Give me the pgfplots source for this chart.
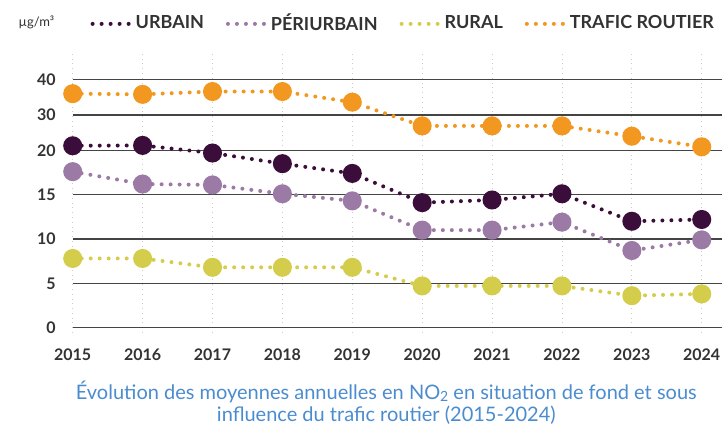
\documentclass[border=0pt]{standalone}
\usepackage{pgfplots}
\pgfplotsset{compat=1.18}
\usepackage{fontspec}
\setmainfont{Lato}
\definecolor{urb}{HTML}{3A0D3A}
\definecolor{peri}{HTML}{9B7BA6}
\definecolor{rur}{HTML}{D4CD4B}
\definecolor{traf}{HTML}{F2971F}
\definecolor{txt}{HTML}{333333}
\definecolor{capblue}{HTML}{4A8CCF}
\definecolor{grd}{HTML}{444444}
\begin{document}
\begin{tikzpicture}
\begin{axis}[
  scale only axis,
  width=324.65pt, height=140pt,
  xmin=2015, xmax=2024.29,
  ymin=-0.6, ymax=47.5,
  y coord trafo/.code={\pgfmathparse{(#1<=20)*(#1)+(#1>20)*(20+0.4*(#1-20))}},
  y coord inv trafo/.code={\pgfmathparse{(#1<=20)*(#1)+(#1>20)*(20+2.5*(#1-20))}},
  xtick={2015,...,2024},
  ytick={0,5,10,15,20,30,40},
  /pgf/number format/assume math mode=true,
  xticklabel={\pgfmathprintnumber[1000 sep={}]{\tick}},
  xticklabel style={font=\fontsize{8}{9}\selectfont\bfseries, text=txt, yshift=-4.5pt},
  yticklabel style={font=\fontsize{8}{9}\selectfont\bfseries, text=txt, xshift=-5pt},
  axis line style={draw=none},
  major tick style={draw=none},
  xmajorgrids, ymajorgrids,
  x grid style={draw=black!20, line width=0.4pt, dotted},
  y grid style={draw=grd, line width=0.6pt},
  clip=false,
  legend columns=4,
  legend style={at={(axis description cs:0.027,1.1036)}, anchor=west, draw=none, fill=none,
    inner sep=0pt, font=\fontsize{9}{10}\selectfont\bfseries, text=txt,
    /tikz/every even column/.append style={column sep=9.5pt},
    nodes={inner xsep=1.5pt}},
  legend image code/.code={\draw[#1, mark=none] (0pt,0pt) -- (19pt,0pt);},
  every axis plot/.append style={line width=2pt, dash pattern=on 0pt off 4.5pt, line cap=round,
    mark=*, mark size=3.75pt},
]
\addplot[urb, mark options={solid, fill=urb, draw=none}] coordinates {
 (2015,21.3) (2016,21.4) (2017,19.7) (2018,18.5) (2019,17.4)
 (2020,14.1) (2021,14.4) (2022,15.1) (2023,12.0) (2024,12.2)};
\addlegendentry{URBAIN}
\addplot[peri, mark options={solid, fill=peri, draw=none}] coordinates {
 (2015,17.6) (2016,16.2) (2017,16.1) (2018,15.1) (2019,14.3)
 (2020,11.0) (2021,11.0) (2022,11.9) (2023,8.7) (2024,9.9)};
\addlegendentry{PÉRIURBAIN}
\addplot[rur, mark options={solid, fill=rur, draw=none}] coordinates {
 (2015,7.8) (2016,7.8) (2017,6.8) (2018,6.8) (2019,6.8)
 (2020,4.7) (2021,4.7) (2022,4.7) (2023,3.6) (2024,3.8)};
\addlegendentry{RURAL}
\addplot[traf, mark options={solid, fill=traf, draw=none}] coordinates {
 (2015,36.0) (2016,35.8) (2017,36.6) (2018,36.6) (2019,33.6)
 (2020,26.9) (2021,26.9) (2022,26.9) (2023,24.0) (2024,21.0)};
\addlegendentry{TRAFIC ROUTIER}
\node[anchor=west, inner sep=0pt, text=txt, font=\fontsize{6.5}{8}\selectfont]
  at (axis description cs:-0.084,1.11) {µg/m³};
\node[align=center, inner sep=0pt, text=capblue, font=\fontsize{10}{11}\selectfont, anchor=north]
  at (axis description cs:0.483,-0.172) {Évolution des moyennes annuelles en NO\raisebox{-0.15ex}{\fontsize{7}{7}\selectfont 2} en situation de fond et sous\\influence du trafic routier (2015-2024)};
\coordinate (bl) at (axis description cs:-0.112,-0.346);
\coordinate (tr) at (axis description cs:1,1.189);
\end{axis}
\pgfresetboundingbox
\path (bl) rectangle (tr);
\end{tikzpicture}
\end{document}
